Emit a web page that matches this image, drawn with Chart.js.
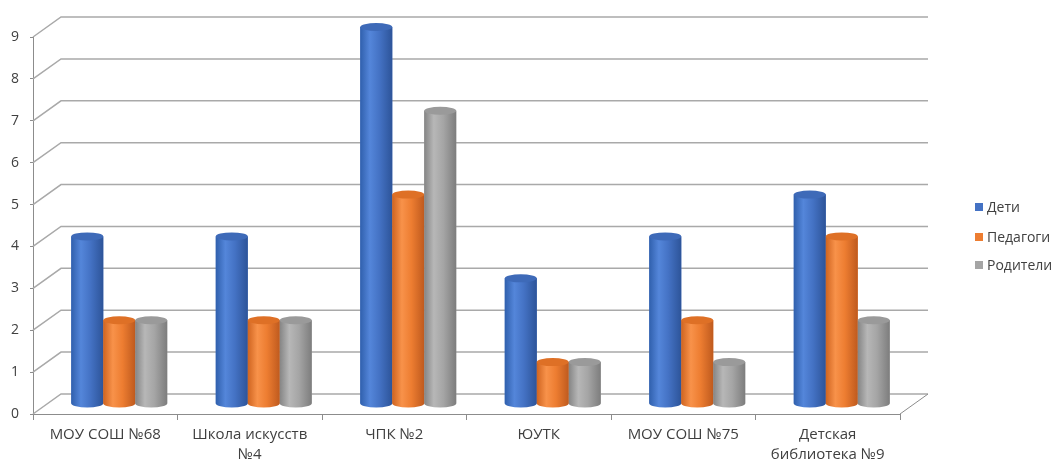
<!DOCTYPE html>
<html>
<head>
<meta charset="utf-8">
<script src="https://cdn.jsdelivr.net/npm/chart.js@4.4.1/dist/chart.umd.min.js"></script>
<style>
  html, body { margin: 0; padding: 0; background: #fff; }
  #wrap { width: 1056px; height: 460px; }
</style>
</head>
<body>
<div id="wrap"><canvas id="chart"></canvas></div>
<script>
const categories = [
  ['МОУ СОШ №68'],
  ['Школа искусств', '№4'],
  ['ЧПК №2'],
  ['ЮУТК'],
  ['МОУ СОШ №75'],
  ['Детская', 'библиотека №9']
];
const seriesNames = ['Дети', 'Педагоги', 'Родители'];
const children = [4, 4, 9, 3, 4, 5];
const teachers = [2, 2, 5, 1, 2, 4];
const parents = [2, 2, 7, 1, 1, 2];
const yMin = 0, yMax = 9, yStep = 1;

const FONT = '"Open Sans", "Noto Sans", sans-serif';
const TEXT = '#404040';
const GRID = '#a9a9a9';
const DEPTH_X = 28, DEPTH_Y = 20;   // back wall offset
const CAP_RY = 4;

// cylinder shading per series
const shades = [
  { base: '#4472c4', edgeL: '#3060ad', light: '#5486da', edgeR: '#2d5499', cap: '#3e6ab8' },
  { base: '#ed7d31', edgeL: '#cf6420', light: '#f8924a', edgeR: '#bf5a1e', cap: '#de7026' },
  { base: '#a5a5a5', edgeL: '#858585', light: '#b7b7b7', edgeR: '#7d7d7d', cap: '#9a9a9a' }
];

const box3d = {
  id: 'box3d',
  beforeDatasetsDraw(chart) {
    const { ctx, scales: { x, y } } = chart;
    ctx.save();
    ctx.strokeStyle = GRID;
    ctx.lineWidth = 1.5;
    y.ticks.forEach(t => {
      const py = y.getPixelForValue(t.value);
      ctx.beginPath();
      ctx.moveTo(x.left, py);
      ctx.lineTo(x.left + DEPTH_X, py - DEPTH_Y);
      ctx.lineTo(x.right + DEPTH_X, py - DEPTH_Y);
      ctx.stroke();
    });
    // floor right edge
    const p0 = y.getPixelForValue(0);
    ctx.lineWidth = 1;
    ctx.strokeStyle = '#8c8c8c';
    ctx.beginPath();
    ctx.moveTo(x.right + DEPTH_X, p0 - DEPTH_Y);
    ctx.lineTo(x.right, p0);
    ctx.stroke();
    ctx.restore();
    // bars sit half way into the box
    ctx.save();
    ctx.translate(DEPTH_X / 2, -DEPTH_Y / 2);
  },
  afterDatasetsDraw(chart) {
    const ctx = chart.ctx;
    chart.data.datasets.forEach((ds, di) => {
      const s = shades[di];
      chart.getDatasetMeta(di).data.forEach(el => {
        const { x, y, base, width } = el.getProps(['x', 'y', 'base', 'width'], true);
        const left = x - width / 2, rx = width / 2;
        const g = ctx.createLinearGradient(left, 0, left + width, 0);
        g.addColorStop(0, s.edgeL);
        g.addColorStop(0.3, s.light);
        g.addColorStop(0.6, s.base);
        g.addColorStop(1, s.edgeR);
        ctx.beginPath();
        ctx.moveTo(left, y);
        ctx.lineTo(left, base);
        ctx.ellipse(x, base, rx, CAP_RY, 0, Math.PI, 0, true);
        ctx.lineTo(left + width, y);
        ctx.closePath();
        ctx.fillStyle = g;
        ctx.fill();
        ctx.beginPath();
        ctx.ellipse(x, y, rx, CAP_RY, 0, 0, Math.PI * 2);
        ctx.fillStyle = s.cap;
        ctx.fill();
      });
    });
    ctx.restore();
  },
  afterDraw(chart) {
    const ctx = chart.ctx;
    const rows = [207, 237, 265];
    ctx.save();
    ctx.font = '14px ' + FONT;
    ctx.textBaseline = 'middle';
    seriesNames.forEach((name, i) => {
      ctx.fillStyle = shades[i].base;
      ctx.fillRect(975, rows[i] - 4, 8, 8);
      ctx.fillStyle = TEXT;
      ctx.fillText(name, 987, rows[i] + 1);
    });
    ctx.restore();
  }
};

new Chart(document.getElementById('chart'), {
  type: 'bar',
  data: {
    labels: categories,
    datasets: [
      { label: seriesNames[0], data: children, backgroundColor: shades[0].base },
      { label: seriesNames[1], data: teachers, backgroundColor: shades[1].base },
      { label: seriesNames[2], data: parents, backgroundColor: shades[2].base }
    ]
  },
  options: {
    responsive: true,
    maintainAspectRatio: false,
    animation: false,
    layout: { padding: { top: 37, right: 156, left: 0, bottom: 0 } },
    datasets: { bar: { categoryPercentage: 0.664, barPercentage: 1, borderWidth: 0 } },
    plugins: { legend: { display: false }, tooltip: { enabled: false } },
    scales: {
      x: {
        afterFit: s => { s.height = 46; },
        grid: { drawOnChartArea: false, tickLength: 6, color: '#8c8c8c' },
        border: { color: '#8c8c8c' },
        ticks: { color: TEXT, font: { family: FONT, size: 15, lineHeight: 1.33 }, padding: 5, maxRotation: 0 }
      },
      y: {
        min: yMin, max: yMax,
        afterFit: s => { s.width = 33; },
        grid: { drawOnChartArea: false, tickLength: 3, color: '#8c8c8c' },
        border: { color: '#8c8c8c' },
        ticks: { stepSize: yStep, color: TEXT, font: { family: FONT, size: 14 }, padding: 11 }
      }
    }
  },
  plugins: [box3d]
});
</script>
</body>
</html>
